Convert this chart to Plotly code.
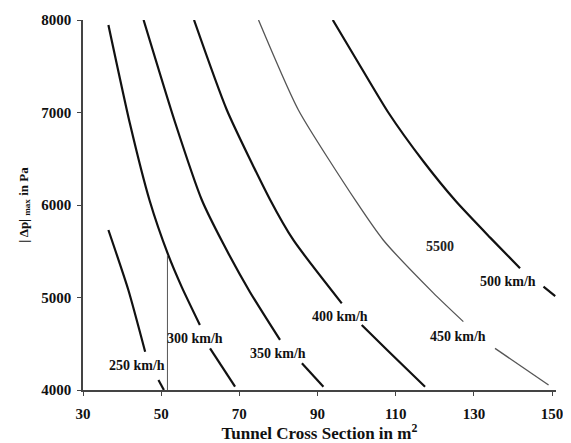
import plotly.graph_objects as go

# Curves: tunnel cross section (m^2) vs |dp|max (Pa); None marks gaps where labels sit
a_250 = [36.5, 41.6, 45.9, None, 49.3, 50.7]
p_250 = [5730, 5081, 4414, None, 4108, 4000]

a_300 = [36.5, 42.0, 47.0, 51.8, 55.3, 59.9, None, 62.5, 68.9]
p_300 = [7946, 6880, 6054, 5460, 5110, 4703, None, 4451, 4036]

a_350 = [45.5, 53.5, 60.4, 65.9, 72.7, 80.4, None, 86.0, 91.5]
p_350 = [8000, 6900, 6054, 5580, 5060, 4541, None, 4290, 4036]

a_400 = [58.4, 66.8, 77.9, 83.8, 96.2, None, 101.3, 107.8, 117.5]
p_400 = [8000, 7027, 6054, 5622, 4937, None, 4703, 4432, 4036]

a_450 = [74.9, 85.1, 100.0, 106.8, 119.6, 127.3, None, 135.4, 149.1]
p_450 = [8000, 7027, 6030, 5622, 5050, 4739, None, 4450, 4054]

a_500 = [93.9, 100.0, 108.1, 117.1, 125.4, 134.1, 141.8, None, 147.8, 150.8]
p_500 = [8000, 7568, 7000, 6470, 6040, 5650, 5316, None, 5117, 5016]

marker_x = [51.6, 51.6]
marker_y = [4000, 5460]

labels = ["250 km/h", "300 km/h", "350 km/h", "400 km/h", "450 km/h", "500 km/h"]
label_x = [43.7, 58.7, 80.0, 95.8, 126.0, 138.8]
label_y = [4270, 4559, 4397, 4800, 4577, 5171]

x_ticks = [30, 50, 70, 90, 110, 130, 150]
y_ticks = [4000, 5000, 6000, 7000, 8000]

fig = go.Figure()
serif = "Liberation Serif"

for ax, py, col, w in [(a_250, p_250, "#111", 2.2), (a_300, p_300, "#111", 2.2),
                       (a_350, p_350, "#111", 2.2), (a_400, p_400, "#111", 2.2),
                       (a_450, p_450, "#555", 1.3), (a_500, p_500, "#111", 2.2)]:
    fig.add_trace(go.Scatter(x=ax, y=py, mode="lines", connectgaps=False,
                             line=dict(color=col, width=w, shape="spline", smoothing=0.6),
                             showlegend=False, hoverinfo="skip"))

fig.add_trace(go.Scatter(x=marker_x, y=marker_y, mode="lines",
                         line=dict(color="#555", width=1), showlegend=False,
                         hoverinfo="skip"))

for t, x, y in zip(labels, label_x, label_y):
    fig.add_annotation(x=x, y=y, text=t, showarrow=False,
                       font=dict(family=serif, size=14, color="#111", weight="bold"))

fig.add_annotation(x=121.4, y=5549, text="5500", showarrow=False,
                   font=dict(family=serif, size=14, color="#222", weight="bold"))
fig.add_annotation(x=52.8, y=3914, text="52", showarrow=False,
                   font=dict(family="DejaVu Sans", size=11, color="#888"))

fig.update_layout(
    width=563, height=435,
    margin=dict(l=75, r=15, t=12, b=53),
    paper_bgcolor="white", plot_bgcolor="white",
    xaxis=dict(range=[30, 151], tickvals=x_ticks, showgrid=False, zeroline=False,
               automargin=False,
               showline=True, linecolor="#444", linewidth=1.5,
               ticks="outside", ticklen=4, tickcolor="#444", ticklabelstandoff=5,
               tickfont=dict(family=serif, size=15, color="#111", weight="bold"),
               title=dict(text="Tunnel Cross Section in m<sup>2</sup>",
                          font=dict(family=serif, size=17, color="#111", weight="bold"),
                          standoff=2)),
    yaxis=dict(range=[4000, 8000], tickvals=y_ticks, showgrid=False, zeroline=False,
               automargin=False,
               showline=True, linecolor="#444", linewidth=1.5,
               ticks="outside", ticklen=4, tickcolor="#444", ticklabelstandoff=3,
               tickfont=dict(family=serif, size=15, color="#111", weight="bold"),
               title=dict(text="| Δp| <sub>max</sub> in Pa",
                          font=dict(family=serif, size=13, color="#111", weight="bold"),
                          standoff=10)),
)

fig.write_html("out.html")
